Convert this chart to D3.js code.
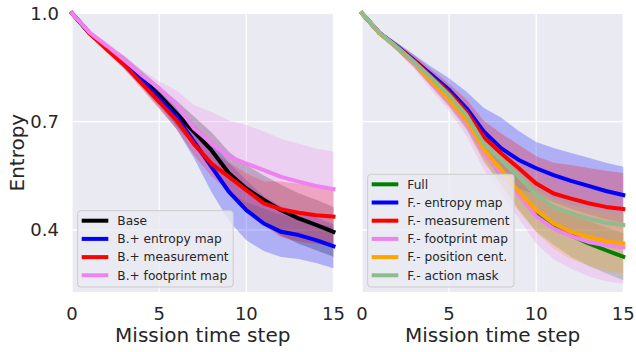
<!DOCTYPE html>
<html>
<head>
<meta charset="utf-8">
<script src="https://cdn.jsdelivr.net/npm/d3@7"></script>
<style>
  body { margin: 0; background: #fff; }
  text { font-family: "DejaVu Sans", sans-serif; fill: #262626; }
</style>
</head>
<body>
<svg id="chart" width="636" height="352"></svg>
<script>
// mission time steps (x)
const steps = [0, 1, 2, 3, 4, 5, 6, 7, 8, 9, 10, 11, 12, 13, 14, 15];
const xTicks = [0, 5, 10, 15];
const yTicks = [0.4, 0.7, 1.0];

// left panel: base + one added feature
const base = [1.0, 0.945, 0.905, 0.866, 0.82, 0.774, 0.723, 0.672, 0.621, 0.557, 0.515, 0.483, 0.455, 0.432, 0.414, 0.395];
const baseStd = [0, 0.005, 0.01, 0.015, 0.02, 0.025, 0.035, 0.042, 0.05, 0.06, 0.065, 0.068, 0.07, 0.07, 0.07, 0.069];
const bEntropy = [1.0, 0.945, 0.905, 0.862, 0.815, 0.765, 0.714, 0.645, 0.575, 0.506, 0.455, 0.418, 0.395, 0.386, 0.372, 0.355];
const bEntropyStd = [0, 0.005, 0.01, 0.015, 0.02, 0.025, 0.035, 0.046, 0.07, 0.08, 0.083, 0.076, 0.07, 0.066, 0.063, 0.061];
const bMeas = [1.0, 0.945, 0.9, 0.857, 0.806, 0.755, 0.704, 0.638, 0.584, 0.547, 0.51, 0.474, 0.457, 0.448, 0.441, 0.437];
const bMeasStd = [0, 0.005, 0.01, 0.012, 0.015, 0.02, 0.025, 0.03, 0.035, 0.04, 0.047, 0.06, 0.077, 0.08, 0.08, 0.08];
const bFoot = [1.0, 0.947, 0.91, 0.871, 0.829, 0.792, 0.746, 0.681, 0.64, 0.603, 0.584, 0.566, 0.547, 0.534, 0.522, 0.513];
const bFootStd = [0, 0.005, 0.01, 0.012, 0.015, 0.02, 0.04, 0.065, 0.087, 0.1, 0.107, 0.107, 0.105, 0.105, 0.104, 0.104];

// right panel: full minus one feature
const full = [1.0, 0.945, 0.906, 0.861, 0.808, 0.757, 0.699, 0.616, 0.561, 0.501, 0.446, 0.414, 0.386, 0.363, 0.344, 0.326];
const fullStd = [0, 0.005, 0.008, 0.01, 0.012, 0.015, 0.02, 0.025, 0.035, 0.045, 0.05, 0.055, 0.06, 0.062, 0.064, 0.065];
const fEntropy = [1.0, 0.946, 0.909, 0.87, 0.829, 0.788, 0.737, 0.672, 0.626, 0.594, 0.571, 0.552, 0.536, 0.522, 0.508, 0.497];
const fEntropyStd = [0, 0.005, 0.01, 0.015, 0.022, 0.032, 0.046, 0.066, 0.085, 0.08, 0.073, 0.075, 0.077, 0.078, 0.078, 0.078];
const fMeas = [1.0, 0.946, 0.908, 0.868, 0.824, 0.78, 0.727, 0.657, 0.612, 0.571, 0.529, 0.501, 0.487, 0.474, 0.464, 0.458];
const fMeasStd = [0, 0.005, 0.01, 0.015, 0.02, 0.025, 0.035, 0.045, 0.055, 0.065, 0.075, 0.085, 0.093, 0.098, 0.1, 0.1];
const fFoot = [1.0, 0.945, 0.905, 0.86, 0.806, 0.755, 0.695, 0.612, 0.557, 0.497, 0.438, 0.404, 0.383, 0.367, 0.358, 0.352];
const fFootStd = [0, 0.005, 0.01, 0.015, 0.02, 0.025, 0.035, 0.045, 0.056, 0.065, 0.075, 0.085, 0.09, 0.095, 0.1, 0.1];
const fPos = [1.0, 0.945, 0.906, 0.862, 0.811, 0.76, 0.704, 0.622, 0.566, 0.506, 0.455, 0.418, 0.395, 0.381, 0.369, 0.363];
const fPosStd = [0, 0.005, 0.01, 0.012, 0.015, 0.02, 0.025, 0.035, 0.045, 0.055, 0.062, 0.07, 0.075, 0.08, 0.082, 0.083];
const fMask = [1.0, 0.946, 0.907, 0.865, 0.82, 0.774, 0.718, 0.638, 0.594, 0.547, 0.497, 0.464, 0.446, 0.432, 0.42, 0.414];
const fMaskStd = [0, 0.005, 0.008, 0.01, 0.012, 0.015, 0.02, 0.025, 0.03, 0.035, 0.04, 0.045, 0.048, 0.05, 0.05, 0.05];

const leftSeries = [
  { name: "Base", color: "black", mean: base, std: baseStd },
  { name: "B.+ entropy map", color: "blue", mean: bEntropy, std: bEntropyStd },
  { name: "B.+ measurement", color: "red", mean: bMeas, std: bMeasStd },
  { name: "B.+ footprint map", color: "violet", mean: bFoot, std: bFootStd },
];
const rightSeries = [
  { name: "Full", color: "green", mean: full, std: fullStd },
  { name: "F.- entropy map", color: "blue", mean: fEntropy, std: fEntropyStd },
  { name: "F.- measurement", color: "red", mean: fMeas, std: fMeasStd },
  { name: "F.- footprint map", color: "violet", mean: fFoot, std: fFootStd },
  { name: "F.- position cent.", color: "orange", mean: fPos, std: fPosStd },
  { name: "F.- action mask", color: "darkseagreen", mean: fMask, std: fMaskStd },
];

const svg = d3.select("#chart");
const plotTop = 13.3, plotBottom = 292;

const y = d3.scaleLinear().domain([0.2284, 1.0]).range([plotBottom, plotTop]);

function drawPanel(left, right, series, showY) {
  const x = d3.scaleLinear().domain([0, 15]).range([left, right]);
  const g = svg.append("g");

  // background + grid
  g.append("rect")
    .attr("x", left).attr("y", plotTop)
    .attr("width", right - left).attr("height", plotBottom - plotTop)
    .attr("fill", "#eaeaf2");

  g.selectAll(".gx").data(xTicks).enter().append("line")
    .attr("x1", d => x(d)).attr("x2", d => x(d))
    .attr("y1", plotTop).attr("y2", plotBottom)
    .attr("stroke", "#fff").attr("stroke-width", 1.3);
  g.selectAll(".gy").data(yTicks).enter().append("line")
    .attr("x1", left).attr("x2", right)
    .attr("y1", d => y(d)).attr("y2", d => y(d))
    .attr("stroke", "#fff").attr("stroke-width", 1.3);

  // std bands
  const area = d3.area()
    .x((d, i) => x(steps[i]))
    .y0(d => y(d[0] - d[1]))
    .y1(d => y(d[0] + d[1]));
  series.forEach(s => {
    const pts = s.mean.map((m, i) => [m, s.std[i]]);
    g.append("path").datum(pts)
      .attr("d", area)
      .attr("fill", s.color).attr("fill-opacity", 0.25);
  });

  // mean lines
  const line = d3.line().x((d, i) => x(steps[i])).y(d => y(d));
  series.forEach(s => {
    g.append("path").datum(s.mean)
      .attr("d", line)
      .attr("fill", "none")
      .attr("stroke", s.color).attr("stroke-width", 4)
      .attr("stroke-linejoin", "round").attr("stroke-linecap", "square");
  });

  // x axis labels
  g.selectAll(".xt").data(xTicks).enter().append("text")
    .attr("x", d => x(d)).attr("y", 320)
    .attr("text-anchor", "middle")
    .attr("font-size", 18)
    .text(d => d);
  g.append("text")
    .attr("x", (left + right) / 2).attr("y", 342)
    .attr("text-anchor", "middle")
    .attr("font-size", 20)
    .text("Mission time step");

  if (showY) {
    g.selectAll(".yt").data(yTicks).enter().append("text")
      .attr("x", left - 13).attr("y", d => y(d))
      .attr("dy", "0.36em")
      .attr("text-anchor", "end")
      .attr("font-size", 18)
      .text(d => d.toFixed(1));
    g.append("text")
      .attr("transform", `translate(24, ${(plotTop + plotBottom) / 2}) rotate(-90)`)
      .attr("text-anchor", "middle")
      .attr("font-size", 20)
      .text("Entropy");
  }

  // legend, lower left
  const rowH = 18.2;
  const boxX = left + 5.7;
  const boxH = 10 + (series.length - 1) * rowH + 11.7;
  const boxY = plotBottom - 5 - boxH;
  const leg = g.append("g");
  const box = leg.append("rect")
    .attr("x", boxX).attr("y", boxY)
    .attr("height", boxH).attr("rx", 3)
    .attr("fill", "#eaeaf2").attr("fill-opacity", 0.8)
    .attr("stroke", "#cccccc").attr("stroke-width", 1);
  let maxW = 0;
  series.forEach((s, i) => {
    const cy = boxY + 10 + i * rowH;
    leg.append("line")
      .attr("x1", boxX + 4).attr("x2", boxX + 30.6)
      .attr("y1", cy).attr("y2", cy)
      .attr("stroke", s.color).attr("stroke-width", 4);
    const t = leg.append("text")
      .attr("x", boxX + 39.6).attr("y", cy)
      .attr("dy", "0.36em")
      .attr("font-size", 12.2)
      .text(s.name);
    maxW = Math.max(maxW, t.node().getComputedTextLength());
  });
  box.attr("width", 39.6 + maxW + 4.5);
}

drawPanel(72, 333.5, leftSeries, true);
drawPanel(362, 623.3, rightSeries, false);
</script>
</body>
</html>
